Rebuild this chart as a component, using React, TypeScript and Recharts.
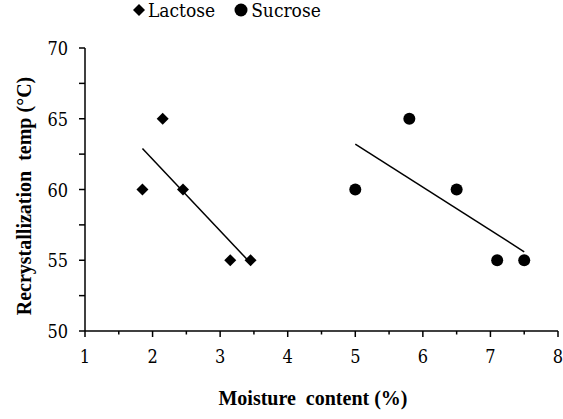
import { ScatterChart, Scatter, XAxis, YAxis, Legend } from 'recharts';

const TITLE_FONT = '"Liberation Serif", "DejaVu Serif", serif';
const TEXT_FONT = '"DejaVu Serif Condensed", "DejaVu Serif", serif';

// measured points
const lactoseX = [1.85, 2.15, 2.45, 3.15, 3.45];
const lactoseY = [60, 65, 60, 55, 55];
const sucroseX = [5, 5.8, 6.5, 7.1, 7.5];
const sucroseY = [60, 65, 60, 55, 55];

// trend line end points
const lactoseTrend = [
  { x: 1.85, y: 62.9 },
  { x: 3.45, y: 54.8 },
];
const sucroseTrend = [
  { x: 5, y: 63.2 },
  { x: 7.5, y: 55.6 },
];

const xTicks = [1, 1.5, 2, 2.5, 3, 3.5, 4, 4.5, 5, 5.5, 6, 6.5, 7, 7.5, 8];
const yTicks = [50, 52.5, 55, 57.5, 60, 62.5, 65, 67.5, 70];

const lactose = lactoseX.map((x, i) => ({ x, y: lactoseY[i] }));
const sucrose = sucroseX.map((x, i) => ({ x, y: sucroseY[i] }));

const Diamond = (p: any) => (
  <polygon
    points={`${p.cx},${p.cy - 6} ${p.cx + 6},${p.cy} ${p.cx},${p.cy + 6} ${p.cx - 6},${p.cy}`}
    fill="#000"
  />
);
const Dot = (p: any) => <circle cx={p.cx} cy={p.cy} r={6} fill="#000" />;
const NoDot = () => <g />;

const tickText = { fontFamily: TEXT_FONT, fontStretch: 'condensed', fill: '#000' } as any;

const XTick = ({ x, y, payload }: any) => {
  const major = payload.value % 1 === 0;
  return (
    <g>
      <line x1={x} x2={x} y1={y} y2={y + (major ? 6 : 3.5)} stroke="#000" strokeWidth={1.5} />
      {major && (
        <text x={x} y={y + 32} textAnchor="middle" fontSize={18} style={tickText}>
          {payload.value}
        </text>
      )}
    </g>
  );
};

const YTick = ({ x, y, payload }: any) => {
  const major = payload.value % 5 === 0;
  return (
    <g>
      <line x1={x - 6} x2={x} y1={y} y2={y} stroke="#000" strokeWidth={1.5} />
      {major && (
        <text x={x - 17} y={y + 7} textAnchor="end" fontSize={18} style={tickText}>
          {payload.value}
        </text>
      )}
    </g>
  );
};

const LegendBox = () => (
  <div
    style={{
      display: 'flex',
      alignItems: 'center',
      fontFamily: TEXT_FONT,
      fontStretch: 'condensed',
      fontSize: 19,
      color: '#000',
      lineHeight: '20px',
    }}
  >
    <svg width={14} height={14} style={{ marginRight: 2 }}>
      <polygon points="7,1 13,7 7,13 1,7" fill="#000" />
    </svg>
    <span style={{ marginRight: 19 }}>Lactose</span>
    <svg width={14} height={14} style={{ marginRight: 3 }}>
      <circle cx={7} cy={7} r={6.5} fill="#000" />
    </svg>
    <span>Sucrose</span>
  </div>
);

export default function App() {
  return (
    <div style={{ position: 'absolute', left: 0, top: 0, width: 563, height: 419, background: '#fff' }}>
      <ScatterChart width={563} height={419} margin={{ top: 28, right: 5, left: 0, bottom: 0 }}>
        <XAxis
          type="number"
          dataKey="x"
          domain={[1, 8]}
          ticks={xTicks}
          interval={0}
          height={88}
          tickSize={0}
          tickMargin={0}
          tick={<XTick />}
          axisLine={{ stroke: '#000', strokeWidth: 1.5 }}
          label={{
            content: () => (
              <text x={313} y={405} textAnchor="middle" fontSize={20} fontWeight="bold" fontFamily={TITLE_FONT} fill="#000" style={{ whiteSpace: 'pre' }}>
                {'Moisture  content (%)'}
              </text>
            ),
          }}
        />
        <YAxis
          type="number"
          dataKey="y"
          domain={[50, 70]}
          ticks={yTicks}
          interval={0}
          width={85}
          tickSize={0}
          tickMargin={0}
          tick={<YTick />}
          axisLine={{ stroke: '#000', strokeWidth: 1.5 }}
          label={{
            content: () => (
              <text
                x={31}
                y={196}
                transform="rotate(-90 31 196)"
                textAnchor="middle"
                fontSize={20}
                fontWeight="bold"
                fontFamily={TITLE_FONT}
                fill="#000"
                style={{ whiteSpace: 'pre' }}
              >
                {'Recrystallization  temp (°C)'}
              </text>
            ),
          }}
        />
        <Legend
          verticalAlign="top"
          content={<LegendBox />}
          wrapperStyle={{ position: 'absolute', top: 0, left: 132, width: 'auto' }}
        />
        <Scatter name="Lactose" data={lactose} shape={<Diamond />} isAnimationActive={false} />
        <Scatter name="Sucrose" data={sucrose} shape={<Dot />} isAnimationActive={false} />
        <Scatter
          data={lactoseTrend}
          line={{ stroke: '#000', strokeWidth: 1.5 }}
          shape={<NoDot />}
          legendType="none"
          isAnimationActive={false}
        />
        <Scatter
          data={sucroseTrend}
          line={{ stroke: '#000', strokeWidth: 1.5 }}
          shape={<NoDot />}
          legendType="none"
          isAnimationActive={false}
        />
      </ScatterChart>
    </div>
  );
}
